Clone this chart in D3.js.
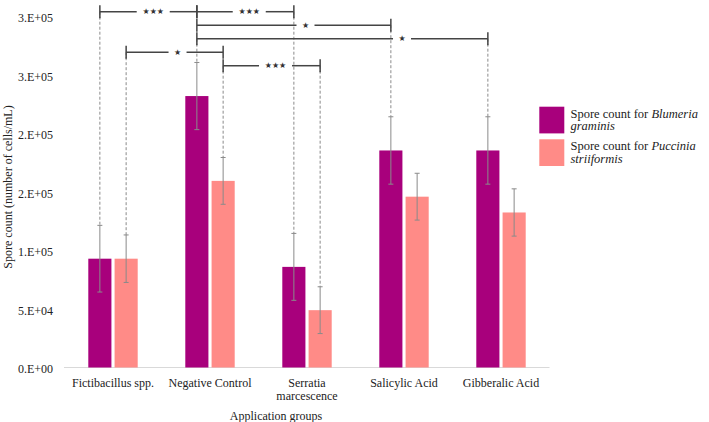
<!DOCTYPE html>
<html>
<head>
<meta charset="utf-8">
<script src="https://cdn.jsdelivr.net/npm/d3@7"></script>
<style>
  body { margin: 0; background: #fff; }
  text { font-family: "Liberation Serif", "Times New Roman", serif; fill: #222; }
</style>
</head>
<body>
<div id="chart"></div>
<script>
// datos
const groups = ["Fictibacillus spp.", "Negative Control", "Serratia marcescence", "Salicylic Acid", "Gibberalic Acid"];
const groupLines = [["Fictibacillus spp."], ["Negative Control"], ["Serratia", "marcescence"], ["Salicylic Acid"], ["Gibberalic Acid"]];
const series = ["blumeria", "puccinia"];
const blumeria = [93000, 232000, 86000, 185500, 185500];
const blumeriaErr = [28500, 28700, 28600, 28800, 28800];
const puccinia = [93000, 159500, 49000, 146000, 132500];
const pucciniaErr = [20300, 20000, 20000, 20000, 20200];
const yTicks = [0, 50000, 100000, 150000, 200000, 250000, 300000];
const yTickLabels = ["0.E+00", "5.E+04", "1.E+05", "2.E+05", "2.E+05", "3.E+05", "3.E+05"];

// comparaciones: [grupo, serie] -> [grupo, serie], nivel, etiqueta
const brackets = [
  { from: [0, 0], to: [1, 0], level: 0, label: "★★★" },
  { from: [1, 0], to: [2, 0], level: 0, label: "★★★" },
  { from: [1, 0], to: [3, 0], level: 1, label: "★" },
  { from: [1, 0], to: [4, 0], level: 2, label: "★" },
  { from: [0, 1], to: [1, 1], level: 3, label: "★" },
  { from: [1, 1], to: [2, 1], level: 4, label: "★★★" }
];
// donde va la etiqueta (fraccion del tramo)
const labelAt = [0.55, 0.54, 0.56, 0.705, 0.53, 0.54];

const width = 709, height = 422;
const colors = { blumeria: "#A8007C", puccinia: "#FF8B87" };

const svg = d3.select("#chart").append("svg")
  .attr("width", width)
  .attr("height", height);

const x = d3.scaleBand().domain(groups).range([64.5, 549.5]);
const xs = d3.scaleBand().domain(series).range([-24.7, 24.7]).paddingInner(0.12);
const y = d3.scaleLinear().domain([0, 300000]).range([367.5, 16.5]);

const values = { blumeria: blumeria, puccinia: puccinia };
const errs = { blumeria: blumeriaErr, puccinia: pucciniaErr };

function barCenter(gi, si) {
  const s = series[si];
  return x(groups[gi]) + x.bandwidth() / 2 + xs(s) + xs.bandwidth() / 2;
}

// eje y (solo etiquetas)
svg.append("g")
  .selectAll("text")
  .data(yTicks)
  .enter().append("text")
  .attr("x", 53)
  .attr("y", d => y(d) + 1.5)
  .attr("text-anchor", "end")
  .attr("dominant-baseline", "central")
  .style("font-size", "12px")
  .text((d, i) => yTickLabels[i]);

// linea base
svg.append("line")
  .attr("x1", 64).attr("x2", 549.5)
  .attr("y1", y(0)).attr("y2", y(0))
  .attr("stroke", "#d9d9d9").attr("stroke-width", 1.2);

// barras
series.forEach((s, si) => {
  svg.append("g").selectAll("rect")
    .data(values[s])
    .enter().append("rect")
    .attr("x", (d, i) => x(groups[i]) + x.bandwidth() / 2 + xs(s))
    .attr("width", xs.bandwidth())
    .attr("y", d => y(d))
    .attr("height", d => y(0) - y(d))
    .attr("fill", colors[s]);
});

// barras de error
series.forEach((s, si) => {
  const g = svg.append("g").attr("stroke", "#8a8a8a").attr("stroke-width", 1);
  values[s].forEach((v, i) => {
    const cx = barCenter(i, si);
    const e = errs[s][i];
    g.append("line").attr("x1", cx).attr("x2", cx).attr("y1", y(v + e)).attr("y2", y(v - e));
    g.append("line").attr("x1", cx - 2.5).attr("x2", cx + 2.5).attr("y1", y(v + e)).attr("y2", y(v + e));
    g.append("line").attr("x1", cx - 2.5).attr("x2", cx + 2.5).attr("y1", y(v - e)).attr("y2", y(v - e));
  });
});

// corchetes de significancia
const levelY = lv => 11.7 + lv * 13.5;

// lineas punteadas desde el nivel mas bajo hasta la barra de error
const ends = {};
brackets.forEach(b => {
  [b.from, b.to].forEach(p => {
    const k = p.join("-");
    ends[k] = Math.max(ends[k] === undefined ? -1 : ends[k], b.level);
  });
});
Object.keys(ends).forEach(k => {
  const [gi, si] = k.split("-").map(Number);
  const s = series[si];
  const top = y(values[s][gi] + errs[s][gi]);
  const cx = barCenter(gi, si);
  svg.append("line")
    .attr("x1", cx).attr("x2", cx)
    .attr("y1", levelY(ends[k])).attr("y2", top)
    .attr("stroke", "#8a8a8a").attr("stroke-width", 1)
    .attr("stroke-dasharray", "3,2");
});

brackets.forEach((b, i) => {
  const x1 = barCenter(b.from[0], b.from[1]);
  const x2 = barCenter(b.to[0], b.to[1]);
  const yy = levelY(b.level);
  const lx = x1 + (x2 - x1) * labelAt[i];
  const half = b.label.length > 1 ? 16.5 : 9;
  const g = svg.append("g").attr("stroke", "#444").attr("stroke-width", 1.5);
  g.append("line").attr("x1", x1).attr("x2", lx - half).attr("y1", yy).attr("y2", yy);
  g.append("line").attr("x1", lx + half).attr("x2", x2).attr("y1", yy).attr("y2", yy);
  g.append("line").attr("x1", x1).attr("x2", x1).attr("y1", yy - 6.5).attr("y2", yy + 6.5);
  g.append("line").attr("x1", x2).attr("x2", x2).attr("y1", yy - 6.5).attr("y2", yy + 6.5);
  svg.append("text")
    .attr("x", lx).attr("y", yy)
    .attr("text-anchor", "middle")
    .attr("dominant-baseline", "central")
    .style("font-family", "DejaVu Sans")
    .style("font-size", "8px")
    .style("fill", "#333")
    .text(b.label);
});

// etiquetas eje x
const xl = svg.append("g");
groupLines.forEach((lines, i) => {
  lines.forEach((ln, j) => {
    xl.append("text")
      .attr("x", x(groups[i]) + x.bandwidth() / 2)
      .attr("y", 386.5 + j * 13)
      .attr("text-anchor", "middle")
      .style("font-size", "12px")
      .text(ln);
  });
});

svg.append("text")
  .attr("x", 276).attr("y", 420)
  .attr("text-anchor", "middle")
  .style("font-size", "12px")
  .text("Application groups");

svg.append("text")
  .attr("transform", "translate(12,187) rotate(-90)")
  .attr("text-anchor", "middle")
  .style("font-size", "12px")
  .text("Spore count (number of cells/mL)");

// leyenda
const legend = [
  { key: "blumeria", name: "Blumeria", second: "graminis", y: 106.7 },
  { key: "puccinia", name: "Puccinia", second: "striiformis", y: 139.3 }
];
legend.forEach(l => {
  svg.append("rect")
    .attr("x", 539.3).attr("y", l.y)
    .attr("width", 25).attr("height", 26.7)
    .attr("fill", colors[l.key]);
  const t = svg.append("text")
    .attr("x", 570.5).attr("y", l.y + 11)
    .style("font-size", "12.5px");
  t.append("tspan").text("Spore count for ");
  t.append("tspan").style("font-style", "italic").text(l.name);
  svg.append("text")
    .attr("x", 570.5).attr("y", l.y + 23.5)
    .style("font-size", "12.5px")
    .style("font-style", "italic")
    .text(l.second);
});
</script>
</body>
</html>
